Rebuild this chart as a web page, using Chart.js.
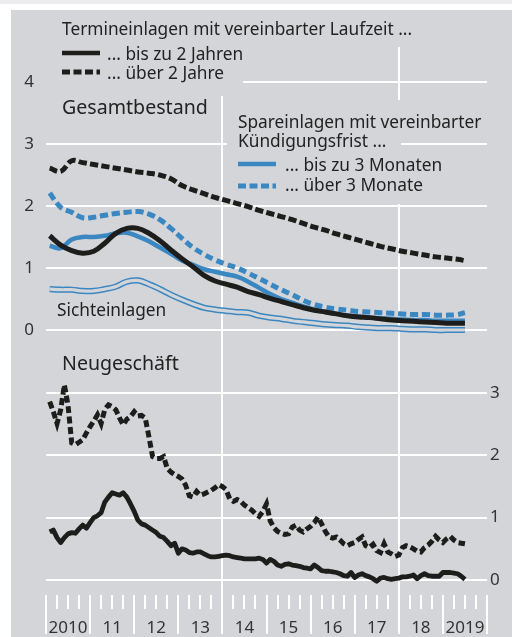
<!DOCTYPE html>
<html>
<head>
<meta charset="utf-8">
<script src="https://cdn.jsdelivr.net/npm/chart.js@4.4.0/dist/chart.umd.min.js"></script>
<style>
  body { margin: 0; background: #fff; width: 512px; height: 637px; position: relative; overflow: hidden; }
  #strip { position: absolute; left: 0; top: 0; width: 512px; height: 4px; background: #ececee; }
  #plot { position: absolute; left: 11px; top: 10px; background: #d4d5d8; }
</style>
</head>
<body>
<div id="strip"></div>
<canvas id="plot" width="501" height="627"></canvas>
<script>
// month index 0 = Jan 2010, points sit at month end
var topMonths = [0, 3, 6, 9, 12, 15, 18, 21, 24, 27, 30, 33, 36, 39, 42, 45, 48, 51, 54, 57,
    60, 63, 66, 69, 72, 75, 78, 81, 84, 87, 90, 93, 96, 99, 102, 105, 108, 111, 113]

// Gesamtbestand (left axis, %)
var termShortStock = [1.52, 1.37, 1.28, 1.24, 1.27, 1.40, 1.56, 1.64, 1.64, 1.56, 1.44, 1.29, 1.15, 1.02, 0.88, 0.79, 0.74, 0.69, 0.62, 0.57,
    0.51, 0.46, 0.41, 0.36, 0.32, 0.29, 0.26, 0.23, 0.21, 0.20, 0.18, 0.16, 0.15, 0.14, 0.13, 0.12, 0.11, 0.11, 0.11]
var termLongStock = [2.61, 2.56, 2.73, 2.70, 2.67, 2.64, 2.61, 2.58, 2.55, 2.53, 2.50, 2.44, 2.33, 2.26, 2.20, 2.14, 2.09, 2.04, 1.99, 1.93,
    1.88, 1.83, 1.78, 1.72, 1.66, 1.61, 1.55, 1.50, 1.45, 1.40, 1.35, 1.31, 1.27, 1.24, 1.21, 1.18, 1.16, 1.14, 1.12]
var savShortStock = [1.36, 1.32, 1.46, 1.50, 1.50, 1.52, 1.56, 1.57, 1.51, 1.43, 1.33, 1.23, 1.12, 1.05, 0.98, 0.94, 0.90, 0.86, 0.78, 0.68,
    0.58, 0.50, 0.44, 0.38, 0.33, 0.29, 0.26, 0.23, 0.22, 0.20, 0.19, 0.18, 0.17, 0.16, 0.16, 0.15, 0.15, 0.15, 0.15]
var savLongStock = [2.21, 1.98, 1.90, 1.81, 1.82, 1.85, 1.88, 1.90, 1.91, 1.87, 1.78, 1.64, 1.48, 1.33, 1.22, 1.13, 1.06, 1.00, 0.92, 0.83,
    0.74, 0.65, 0.57, 0.48, 0.41, 0.37, 0.34, 0.32, 0.30, 0.29, 0.28, 0.27, 0.26, 0.25, 0.25, 0.24, 0.24, 0.25, 0.28]
var sightStock = [0.66, 0.65, 0.65, 0.63, 0.63, 0.66, 0.70, 0.78, 0.80, 0.74, 0.66, 0.57, 0.49, 0.42, 0.36, 0.33, 0.31, 0.29, 0.28, 0.23,
    0.20, 0.18, 0.15, 0.13, 0.11, 0.09, 0.08, 0.07, 0.05, 0.04, 0.03, 0.03, 0.02, 0.01, 0.01, 0.00, 0.00, 0.00, 0.00]

// Neugeschäft (right axis, %), monthly Jan 2010 - Jun 2019
var termShortNew = [0.77, 0.80, 0.68, 0.60, 0.68, 0.74, 0.76, 0.75, 0.82, 0.88, 0.83, 0.92,
    1.00, 1.03, 1.08, 1.25, 1.33, 1.40, 1.38, 1.36, 1.40, 1.33, 1.22, 1.10,
    0.96, 0.90, 0.88, 0.84, 0.80, 0.76, 0.70, 0.68, 0.62, 0.55, 0.59, 0.43,
    0.50, 0.48, 0.44, 0.43, 0.45, 0.45, 0.42, 0.39, 0.37, 0.37, 0.38, 0.39,
    0.40, 0.39, 0.37, 0.36, 0.35, 0.34, 0.34, 0.34, 0.34, 0.35, 0.33, 0.27,
    0.33, 0.30, 0.24, 0.22, 0.25, 0.26, 0.24, 0.23, 0.22, 0.20, 0.19, 0.18,
    0.24, 0.20, 0.15, 0.14, 0.14, 0.13, 0.12, 0.10, 0.07, 0.06, 0.12, 0.04,
    0.08, 0.10, 0.07, 0.05, 0.02, -0.02, 0.03, 0.04, 0.02, 0.01, 0.02, 0.03,
    0.05, 0.05, 0.06, 0.08, 0.02, 0.07, 0.10, 0.07, 0.06, 0.06, 0.06, 0.12,
    0.12, 0.12, 0.11, 0.10, 0.06, 0.01]
var termLongNew = [2.86, 2.70, 2.51, 2.73, 3.13, 2.80, 2.20, 2.17, 2.21, 2.25, 2.36, 2.46,
    2.55, 2.65, 2.51, 2.74, 2.81, 2.78, 2.73, 2.60, 2.49, 2.58, 2.62, 2.70,
    2.63, 2.64, 2.60, 2.30, 1.98, 1.95, 1.95, 1.98, 1.79, 1.73, 1.69, 1.66,
    1.62, 1.52, 1.35, 1.33, 1.42, 1.36, 1.38, 1.41, 1.44, 1.48, 1.53, 1.50,
    1.45, 1.30, 1.26, 1.29, 1.26, 1.20, 1.16, 1.12, 1.06, 1.02, 1.10, 1.22,
    0.95, 0.84, 0.78, 0.75, 0.73, 0.74, 0.85, 0.88, 0.80, 0.77, 0.82, 0.86,
    0.92, 1.01, 0.90, 0.78, 0.69, 0.67, 0.69, 0.64, 0.58, 0.55, 0.58, 0.60,
    0.65, 0.69, 0.55, 0.52, 0.57, 0.47, 0.44, 0.58, 0.45, 0.42, 0.38, 0.40,
    0.52, 0.55, 0.53, 0.50, 0.46, 0.45, 0.52, 0.56, 0.62, 0.70, 0.64, 0.60,
    0.66, 0.70, 0.64, 0.60, 0.59, 0.58]

var yearLabels = ['2010', '11', '12', '13', '14', '15', '16', '17', '18', '2019']
var gridYears = [2014, 2018]
var leftTicks = [0, 1, 2, 3, 4]
var rightTicks = [0, 1, 2, 3]

var BG = '#d4d5d8'
var BLACK = '#1d1d1b'
var BLUE = '#3a87c1'
var TXT = '#222'
var FONT = '"Noto Sans", "Open Sans", sans-serif'

function pts(xs, ys) {
    return ys.map(function (v, i) { return { x: xs[i] + 1, y: v } })
}
var allMonths = []
for (var i = 0; i < termShortNew.length; i++) allMonths.push(i)

function line(ctx, x1, x2, y, color, width, dash) {
    ctx.save()
    ctx.strokeStyle = color
    ctx.lineWidth = width
    ctx.setLineDash(dash || [])
    ctx.beginPath()
    ctx.moveTo(x1, y)
    ctx.lineTo(x2, y)
    ctx.stroke()
    ctx.restore()
}

// text blocks and legend keys sit on grey boxes that hide the grid below them
var notes = {
    id: 'notes',
    beforeDatasetsDraw: function (chart) {
        var c = chart.ctx
        c.save()
        c.fillStyle = BG
        c.fillRect(33, 30, 199, 56)
        c.fillRect(216, 90, 260, 31)
        c.fillRect(216, 121, 174, 19)
        c.fillRect(216, 140, 244, 54)
        c.fillStyle = TXT
        c.textBaseline = 'alphabetic'
        c.font = '17.3px ' + FONT
        c.fillText('Termineinlagen mit vereinbarter Laufzeit ...', 51, 25)
        c.fillText('... bis zu 2 Jahren', 96, 50)
        c.fillText('... über 2 Jahre', 96, 69)
        c.fillText('Spareinlagen mit vereinbarter', 227, 118)
        c.fillText('Kündigungsfrist ...', 227, 137)
        c.fillText('... bis zu 3 Monaten', 274, 161)
        c.fillText('... über 3 Monate', 274, 181)
        c.fillText('Sichteinlagen', 46, 306)
        c.font = '19.6px ' + FONT
        c.fillText('Gesamtbestand', 51, 104)
        c.fillText('Neugeschäft', 51, 360)
        c.restore()
        line(c, 51, 89, 43, BLACK, 4.5)
        line(c, 51, 89, 62, BLACK, 5, [8, 3.5])
        line(c, 227, 265, 154, BLUE, 4.5)
        line(c, 227, 265, 176, BLUE, 5, [8, 3.5])
    }
}

var quarterTicks = []
for (var q = 0; q <= 120; q += 3) quarterTicks.push({ value: q })

new Chart(document.getElementById('plot'), {
    type: 'line',
    data: {
        datasets: [
            { data: pts(topMonths, termShortStock), yAxisID: 'yTop', borderColor: BLACK, borderWidth: 5, tension: 0.4 },
            { data: pts(topMonths, termLongStock), yAxisID: 'yTop', borderColor: BLACK, borderWidth: 5, borderDash: [8, 3.5], tension: 0.4 },
            { data: pts(topMonths, savShortStock), yAxisID: 'yTop', borderColor: BLUE, borderWidth: 4.5, tension: 0.4 },
            { data: pts(topMonths, savLongStock), yAxisID: 'yTop', borderColor: BLUE, borderWidth: 5, borderDash: [8, 4], tension: 0.4 },
            { data: pts(topMonths, sightStock), yAxisID: 'yTop', borderColor: BG, borderWidth: 3.2, tension: 0.4 },
            { data: pts(topMonths, sightStock), yAxisID: 'yTop', borderColor: BLUE, borderWidth: 6.2, tension: 0.4 },
            { data: pts(allMonths, termShortNew), yAxisID: 'yBot', borderColor: BLACK, borderWidth: 4.8, borderJoinStyle: 'round' },
            { data: pts(allMonths, termLongNew), yAxisID: 'yBot', borderColor: BLACK, borderWidth: 5, borderDash: [7, 3.5] }
        ]
    },
    options: {
        responsive: false,
        animation: false,
        devicePixelRatio: 1,
        layout: { padding: { top: 37, left: 0, right: 0, bottom: 0 } },
        elements: { point: { radius: 0 }, line: { fill: false } },
        plugins: { legend: { display: false }, tooltip: { enabled: false } },
        scales: {
            x: {
                type: 'linear',
                position: 'bottom',
                min: 0,
                max: 120,
                afterBuildTicks: function (s) { s.ticks = quarterTicks.map(function (t) { return { value: t.value } }) },
                afterFit: function (s) { s.height = 42 },
                border: { display: false },
                grid: {
                    color: function (ctx) {
                        var v = ctx.tick ? ctx.tick.value : -1
                        return gridYears.some(function (y) { return (y - 2010) * 12 === v }) ? '#fff' : 'rgba(0,0,0,0)'
                    },
                    lineWidth: 2,
                    drawTicks: true,
                    tickLength: 39,
                    tickColor: '#fff',
                    tickWidth: 2,
                    tickBorderDash: function (ctx) {
                        return ctx.tick && ctx.tick.value % 12 === 0 ? [] : [14, 60]
                    }
                },
                ticks: {
                    autoSkip: false,
                    maxRotation: 0,
                    padding: -16,
                    color: '#333',
                    font: { family: FONT, size: 17 },
                    callback: function (v) {
                        return (v - 6) % 12 === 0 ? yearLabels[(v - 6) / 12] : ''
                    }
                }
            },
            yTop: {
                type: 'linear',
                position: 'left',
                min: -4.274,
                max: 4.565,
                afterBuildTicks: function (s) { s.ticks = leftTicks.map(function (v) { return { value: v } }) },
                afterFit: function (s) { s.width = 35 },
                border: { display: false },
                grid: { color: '#fff', lineWidth: 2, drawTicks: false },
                ticks: { padding: 12, color: '#333', font: { family: FONT, size: 17 } }
            },
            yBot: {
                type: 'linear',
                position: 'right',
                min: -0.241,
                max: 8.551,
                afterBuildTicks: function (s) { s.ticks = rightTicks.map(function (v) { return { value: v } }) },
                afterFit: function (s) { s.width = 25 },
                border: { display: false },
                grid: { color: '#fff', lineWidth: 2, drawTicks: false },
                ticks: { padding: 3, color: '#333', font: { family: FONT, size: 17 } }
            }
        }
    },
    plugins: [notes]
})
</script>
</body>
</html>
